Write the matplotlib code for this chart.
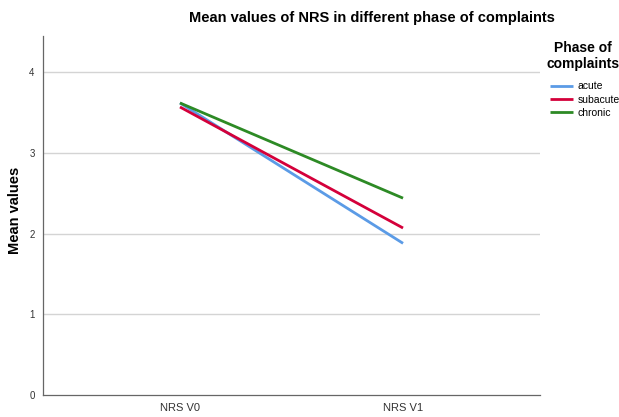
import matplotlib.pyplot as plt

plt.rcParams["font.family"] = ["Liberation Sans", "DejaVu Sans"]

visits = ["NRS V0", "NRS V1"]
acute = [3.62, 1.88]
subacute = [3.57, 2.07]
chronic = [3.62, 2.44]

series = [("acute", acute, "#5b9be6"), ("subacute", subacute, "#d4003a"), ("chronic", chronic, "#2d8a25")]

fig = plt.figure(figsize=(6.19, 4.17), dpi=100)
ax = fig.add_axes([43 / 619, 1 - 395 / 417, 497 / 619, 359 / 417])

x = range(len(visits))
for name, vals, col in series:
    ax.plot(x, vals, color=col, linewidth=2.0, label=name, solid_capstyle="butt")

ax.set_xlim(-0.614, 1.614)
ax.set_ylim(0, 4.45)
ax.set_yticks([0, 1, 2, 3, 4])
ax.set_xticks(list(x))
ax.set_xticklabels(visits)
for yv in [1, 2, 3, 4]:
    ax.axhline(yv, color="#d4d4d4", linewidth=1.0, zorder=0)
ax.tick_params(axis="both", length=0, labelsize=7, colors="#333333")
ax.tick_params(axis="x", labelsize=8, pad=6)
ax.tick_params(axis="y", pad=6)
for s in ["top", "right"]:
    ax.spines[s].set_visible(False)
for s in ["left", "bottom"]:
    ax.spines[s].set_color("#666666")
    ax.spines[s].set_linewidth(0.9)

fig.text(15 / 619, 1 - 210 / 417, "Mean values", rotation=90, ha="center", va="center",
         fontsize=10.5, fontweight="bold")
fig.text(372 / 619, 1 - 18 / 417, "Mean values of NRS in different phase of complaints",
         ha="center", va="center", fontsize=10.5, fontweight="bold")

# legend title placed separately, entries below it
fig.text(583 / 619, 1 - 56 / 417, "Phase of\ncomplaints", ha="center", va="center",
         fontsize=10, fontweight="bold", multialignment="center", linespacing=1.1)
leg = ax.legend(loc="upper left", bbox_to_anchor=(543 / 619, 1 - 74 / 417), bbox_transform=fig.transFigure,
                frameon=False, fontsize=7.5, handlelength=2.2,
                handletextpad=0.4, labelspacing=0.32, borderpad=0.2)

fig.savefig("out.png", dpi=100)
